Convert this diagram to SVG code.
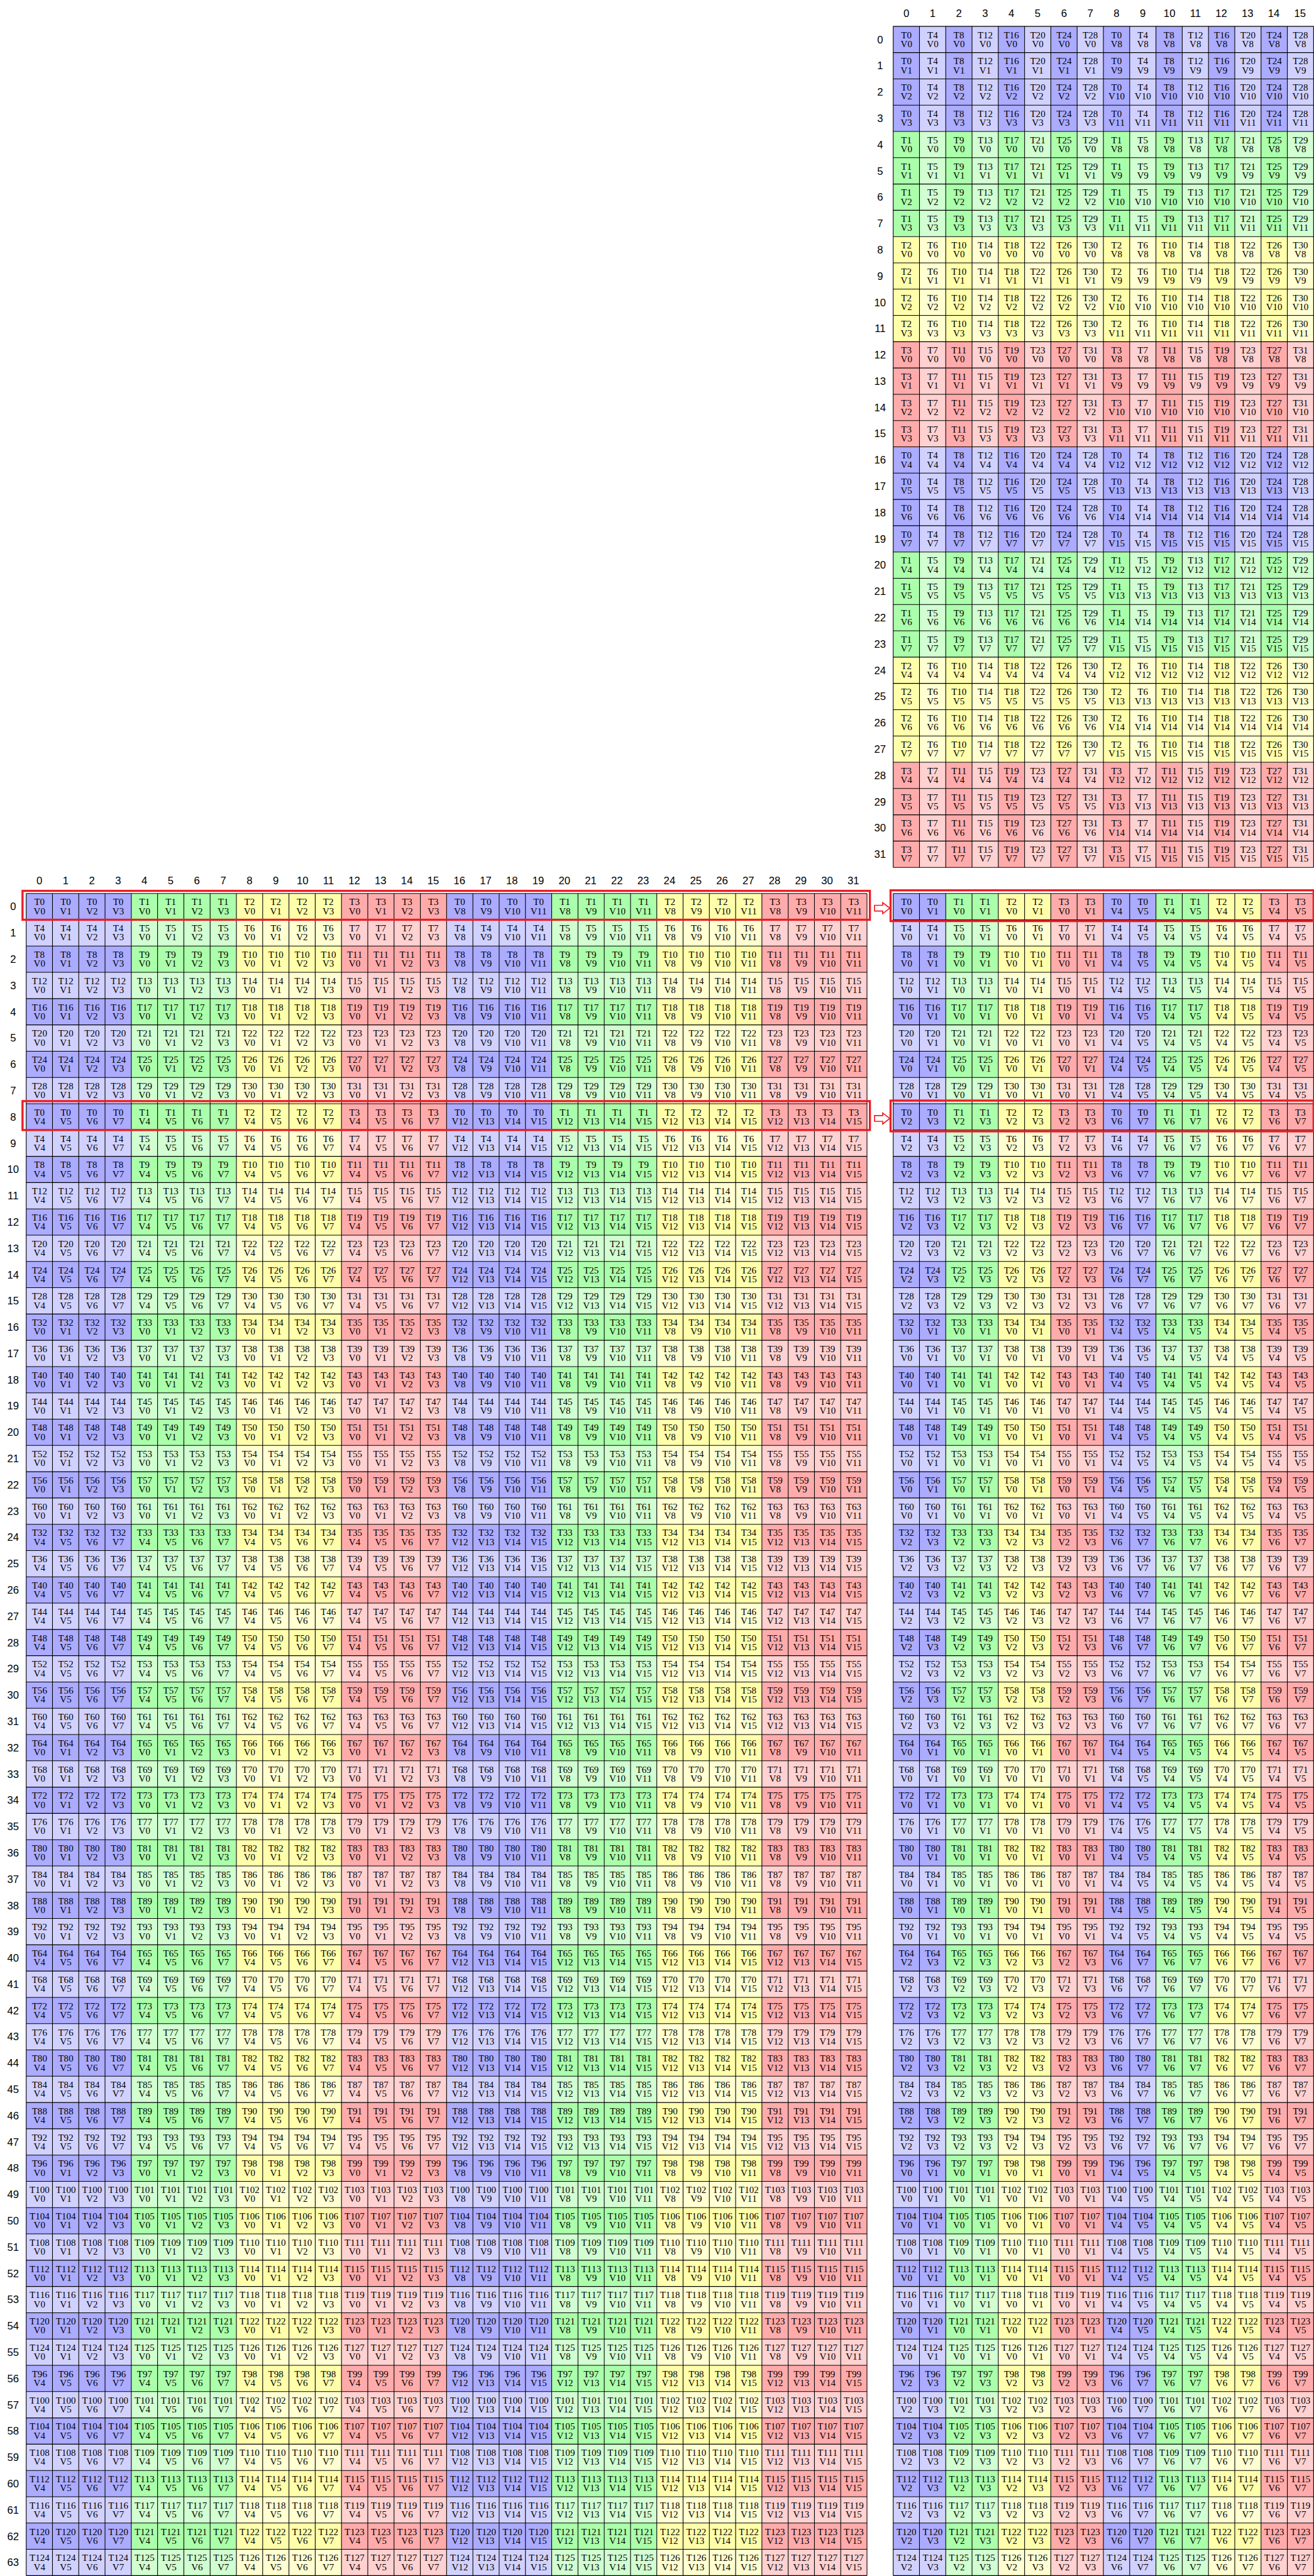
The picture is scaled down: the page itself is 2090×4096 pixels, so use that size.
<svg xmlns="http://www.w3.org/2000/svg" width="2090" height="4096" viewBox="0 0 2090 4096">
<style>
.t{font-family:"Liberation Serif","Times New Roman",serif;font-size:36px;text-anchor:middle;font-kerning:none;fill:#000}
.n{font-family:"Liberation Sans",Arial,sans-serif;font-size:40px;text-anchor:middle;fill:#000}
.a{word-spacing:51px}.b{word-spacing:33px}.c{word-spacing:15px}.v{word-spacing:47px}.w{word-spacing:29px}.d{word-spacing:66.6px}.e{word-spacing:44.4px}
.g{fill:none;stroke:#000;stroke-dasharray:2.6 97.4}
.r{fill:none;stroke:#ed1c24;stroke-width:8}
.ar{fill:#fff;stroke:#ed1c24;stroke-width:4}
</style>
<defs>
<pattern id="pT" patternUnits="userSpaceOnUse" width="200" height="1600">
<rect width="100" height="400" fill="#ababff"/><rect x="100" width="100" height="400" fill="#d1d1ff"/>
<rect y="400" width="100" height="400" fill="#abffab"/><rect x="100" y="400" width="100" height="400" fill="#d1ffd1"/>
<rect y="800" width="100" height="400" fill="#ffffab"/><rect x="100" y="800" width="100" height="400" fill="#ffffd1"/>
<rect y="1200" width="100" height="400" fill="#ffabab"/><rect x="100" y="1200" width="100" height="400" fill="#ffd1d1"/>
</pattern>
<pattern id="pL" patternUnits="userSpaceOnUse" width="1600" height="200">
<rect width="400" height="100" fill="#ababff"/><rect y="100" width="400" height="100" fill="#d1d1ff"/>
<rect x="400" width="400" height="100" fill="#abffab"/><rect x="400" y="100" width="400" height="100" fill="#d1ffd1"/>
<rect x="800" width="400" height="100" fill="#ffffab"/><rect x="800" y="100" width="400" height="100" fill="#ffffd1"/>
<rect x="1200" width="400" height="100" fill="#ffabab"/><rect x="1200" y="100" width="400" height="100" fill="#ffd1d1"/>
</pattern>
<pattern id="pR" patternUnits="userSpaceOnUse" width="800" height="200">
<rect width="200" height="100" fill="#ababff"/><rect y="100" width="200" height="100" fill="#d1d1ff"/>
<rect x="200" width="200" height="100" fill="#abffab"/><rect x="200" y="100" width="200" height="100" fill="#d1ffd1"/>
<rect x="400" width="200" height="100" fill="#ffffab"/><rect x="400" y="100" width="200" height="100" fill="#ffffd1"/>
<rect x="600" width="200" height="100" fill="#ffabab"/><rect x="600" y="100" width="200" height="100" fill="#ffd1d1"/>
</pattern>
<g id="A0" class="t"><text class="a" x="150">T0 T4 T8</text><text class="b" x="550">T12 T16 T20 T24 T28</text><text class="a" x="950">T0 T4 T8</text><text class="b" x="1350">T12 T16 T20 T24 T28</text></g>
<g id="A1" class="t"><text class="a" x="150">T1 T5 T9</text><text class="b" x="550">T13 T17 T21 T25 T29</text><text class="a" x="950">T1 T5 T9</text><text class="b" x="1350">T13 T17 T21 T25 T29</text></g>
<g id="A2" class="t"><text class="a" x="100">T2 T6</text><text class="b" x="500">T10 T14 T18 T22 T26 T30</text><text class="a" x="900">T2 T6</text><text class="b" x="1300">T10 T14 T18 T22 T26 T30</text></g>
<g id="A3" class="t"><text class="a" x="100">T3 T7</text><text class="b" x="500">T11 T15 T19 T23 T27 T31</text><text class="a" x="900">T3 T7</text><text class="b" x="1300">T11 T15 T19 T23 T27 T31</text></g>
<g id="TT"><use href="#A0" y="45"/><use href="#A0" y="145"/><use href="#A0" y="245"/><use href="#A0" y="345"/><use href="#A1" y="445"/><use href="#A1" y="545"/><use href="#A1" y="645"/><use href="#A1" y="745"/><use href="#A2" y="845"/><use href="#A2" y="945"/><use href="#A2" y="1045"/><use href="#A2" y="1145"/><use href="#A3" y="1245"/><use href="#A3" y="1345"/><use href="#A3" y="1445"/><use href="#A3" y="1545"/></g>
<g id="VB0" class="t">
<text class="v" x="800" y="79">V0 V0 V0 V0 V0 V0 V0 V0 V8 V8 V8 V8 V8 V8 V8 V8</text>
<text class="v" x="800" y="179">V1 V1 V1 V1 V1 V1 V1 V1 V9 V9 V9 V9 V9 V9 V9 V9</text>
<text class="v" x="400" y="279">V2 V2 V2 V2 V2 V2 V2 V2</text><text class="w" x="1200" y="279">V10 V10 V10 V10 V10 V10 V10 V10</text>
<text class="v" x="400" y="379">V3 V3 V3 V3 V3 V3 V3 V3</text><text class="w" x="1200" y="379">V11 V11 V11 V11 V11 V11 V11 V11</text>
</g>
<g id="VB1" class="t">
<text class="v" x="400" y="79">V4 V4 V4 V4 V4 V4 V4 V4</text><text class="w" x="1200" y="79">V12 V12 V12 V12 V12 V12 V12 V12</text>
<text class="v" x="400" y="179">V5 V5 V5 V5 V5 V5 V5 V5</text><text class="w" x="1200" y="179">V13 V13 V13 V13 V13 V13 V13 V13</text>
<text class="v" x="400" y="279">V6 V6 V6 V6 V6 V6 V6 V6</text><text class="w" x="1200" y="279">V14 V14 V14 V14 V14 V14 V14 V14</text>
<text class="v" x="400" y="379">V7 V7 V7 V7 V7 V7 V7 V7</text><text class="w" x="1200" y="379">V15 V15 V15 V15 V15 V15 V15 V15</text>
</g>
<g id="LT0" class="t">
<text class="a" x="800" y="45">T0 T0 T0 T0 T1 T1 T1 T1 T2 T2 T2 T2 T3 T3 T3 T3</text>
<text class="a" x="800" y="145">T4 T4 T4 T4 T5 T5 T5 T5 T6 T6 T6 T6 T7 T7 T7 T7</text>
<text class="a" x="400" y="245">T8 T8 T8 T8 T9 T9 T9 T9</text><text class="b" x="1200" y="245">T10 T10 T10 T10 T11 T11 T11 T11</text>
<text class="b" x="800" y="345">T12 T12 T12 T12 T13 T13 T13 T13 T14 T14 T14 T14 T15 T15 T15 T15</text>
<text class="b" x="800" y="445">T16 T16 T16 T16 T17 T17 T17 T17 T18 T18 T18 T18 T19 T19 T19 T19</text>
<text class="b" x="800" y="545">T20 T20 T20 T20 T21 T21 T21 T21 T22 T22 T22 T22 T23 T23 T23 T23</text>
<text class="b" x="800" y="645">T24 T24 T24 T24 T25 T25 T25 T25 T26 T26 T26 T26 T27 T27 T27 T27</text>
<text class="b" x="800" y="745">T28 T28 T28 T28 T29 T29 T29 T29 T30 T30 T30 T30 T31 T31 T31 T31</text>
</g>
<g id="LT1" class="t">
<text class="b" x="800" y="45">T32 T32 T32 T32 T33 T33 T33 T33 T34 T34 T34 T34 T35 T35 T35 T35</text>
<text class="b" x="800" y="145">T36 T36 T36 T36 T37 T37 T37 T37 T38 T38 T38 T38 T39 T39 T39 T39</text>
<text class="b" x="800" y="245">T40 T40 T40 T40 T41 T41 T41 T41 T42 T42 T42 T42 T43 T43 T43 T43</text>
<text class="b" x="800" y="345">T44 T44 T44 T44 T45 T45 T45 T45 T46 T46 T46 T46 T47 T47 T47 T47</text>
<text class="b" x="800" y="445">T48 T48 T48 T48 T49 T49 T49 T49 T50 T50 T50 T50 T51 T51 T51 T51</text>
<text class="b" x="800" y="545">T52 T52 T52 T52 T53 T53 T53 T53 T54 T54 T54 T54 T55 T55 T55 T55</text>
<text class="b" x="800" y="645">T56 T56 T56 T56 T57 T57 T57 T57 T58 T58 T58 T58 T59 T59 T59 T59</text>
<text class="b" x="800" y="745">T60 T60 T60 T60 T61 T61 T61 T61 T62 T62 T62 T62 T63 T63 T63 T63</text>
</g>
<g id="LT2" class="t">
<text class="b" x="800" y="45">T64 T64 T64 T64 T65 T65 T65 T65 T66 T66 T66 T66 T67 T67 T67 T67</text>
<text class="b" x="800" y="145">T68 T68 T68 T68 T69 T69 T69 T69 T70 T70 T70 T70 T71 T71 T71 T71</text>
<text class="b" x="800" y="245">T72 T72 T72 T72 T73 T73 T73 T73 T74 T74 T74 T74 T75 T75 T75 T75</text>
<text class="b" x="800" y="345">T76 T76 T76 T76 T77 T77 T77 T77 T78 T78 T78 T78 T79 T79 T79 T79</text>
<text class="b" x="800" y="445">T80 T80 T80 T80 T81 T81 T81 T81 T82 T82 T82 T82 T83 T83 T83 T83</text>
<text class="b" x="800" y="545">T84 T84 T84 T84 T85 T85 T85 T85 T86 T86 T86 T86 T87 T87 T87 T87</text>
<text class="b" x="800" y="645">T88 T88 T88 T88 T89 T89 T89 T89 T90 T90 T90 T90 T91 T91 T91 T91</text>
<text class="b" x="800" y="745">T92 T92 T92 T92 T93 T93 T93 T93 T94 T94 T94 T94 T95 T95 T95 T95</text>
</g>
<g id="LT3" class="t">
<text class="b" x="800" y="45">T96 T96 T96 T96 T97 T97 T97 T97 T98 T98 T98 T98 T99 T99 T99 T99</text>
<text class="c" x="800" y="145">T100 T100 T100 T100 T101 T101 T101 T101 T102 T102 T102 T102 T103 T103 T103 T103</text>
<text class="c" x="800" y="245">T104 T104 T104 T104 T105 T105 T105 T105 T106 T106 T106 T106 T107 T107 T107 T107</text>
<text class="c" x="800" y="345">T108 T108 T108 T108 T109 T109 T109 T109 T110 T110 T110 T110 T111 T111 T111 T111</text>
<text class="c" x="800" y="445">T112 T112 T112 T112 T113 T113 T113 T113 T114 T114 T114 T114 T115 T115 T115 T115</text>
<text class="c" x="800" y="545">T116 T116 T116 T116 T117 T117 T117 T117 T118 T118 T118 T118 T119 T119 T119 T119</text>
<text class="c" x="800" y="645">T120 T120 T120 T120 T121 T121 T121 T121 T122 T122 T122 T122 T123 T123 T123 T123</text>
<text class="c" x="800" y="745">T124 T124 T124 T124 T125 T125 T125 T125 T126 T126 T126 T126 T127 T127 T127 T127</text>
</g>
<g id="LV0" class="t"><text class="v" x="800" y="79">V0 V1 V2 V3 V0 V1 V2 V3 V0 V1 V2 V3 V0 V1 V2 V3</text><text class="v" x="1700" y="79">V8 V9</text><text class="w" x="1900" y="79">V10 V11</text><text class="v" x="2100" y="79">V8 V9</text><text class="w" x="2300" y="79">V10 V11</text><text class="v" x="2500" y="79">V8 V9</text><text class="w" x="2700" y="79">V10 V11</text><text class="v" x="2900" y="79">V8 V9</text><text class="w" x="3100" y="79">V10 V11</text></g>
<g id="LV1" class="t"><text class="v" x="800" y="79">V4 V5 V6 V7 V4 V5 V6 V7 V4 V5 V6 V7 V4 V5 V6 V7</text><text class="w" x="2400" y="79">V12 V13 V14 V15 V12 V13 V14 V15 V12 V13 V14 V15 V12 V13 V14 V15</text></g>
<g id="LVB"><use href="#LV0"/><use href="#LV0" y="100"/><use href="#LV0" y="200"/><use href="#LV0" y="300"/><use href="#LV0" y="400"/><use href="#LV0" y="500"/><use href="#LV0" y="600"/><use href="#LV0" y="700"/><use href="#LV1" y="800"/><use href="#LV1" y="900"/><use href="#LV1" y="1000"/><use href="#LV1" y="1100"/><use href="#LV1" y="1200"/><use href="#LV1" y="1300"/><use href="#LV1" y="1400"/><use href="#LV1" y="1500"/></g>
<g id="RT0" class="t">
<text class="a" x="400" y="45">T0 T0 T1 T1 T2 T2 T3 T3</text>
<text class="a" x="400" y="145">T4 T4 T5 T5 T6 T6 T7 T7</text>
<text class="a" x="200" y="245">T8 T8 T9 T9</text><text class="b" x="600" y="245">T10 T10 T11 T11</text>
<text class="b" x="400" y="345">T12 T12 T13 T13 T14 T14 T15 T15</text>
<text class="b" x="400" y="445">T16 T16 T17 T17 T18 T18 T19 T19</text>
<text class="b" x="400" y="545">T20 T20 T21 T21 T22 T22 T23 T23</text>
<text class="b" x="400" y="645">T24 T24 T25 T25 T26 T26 T27 T27</text>
<text class="b" x="400" y="745">T28 T28 T29 T29 T30 T30 T31 T31</text>
</g>
<g id="RT1" class="t">
<text class="b" x="400" y="45">T32 T32 T33 T33 T34 T34 T35 T35</text>
<text class="b" x="400" y="145">T36 T36 T37 T37 T38 T38 T39 T39</text>
<text class="b" x="400" y="245">T40 T40 T41 T41 T42 T42 T43 T43</text>
<text class="b" x="400" y="345">T44 T44 T45 T45 T46 T46 T47 T47</text>
<text class="b" x="400" y="445">T48 T48 T49 T49 T50 T50 T51 T51</text>
<text class="b" x="400" y="545">T52 T52 T53 T53 T54 T54 T55 T55</text>
<text class="b" x="400" y="645">T56 T56 T57 T57 T58 T58 T59 T59</text>
<text class="b" x="400" y="745">T60 T60 T61 T61 T62 T62 T63 T63</text>
</g>
<g id="RT2" class="t">
<text class="b" x="400" y="45">T64 T64 T65 T65 T66 T66 T67 T67</text>
<text class="b" x="400" y="145">T68 T68 T69 T69 T70 T70 T71 T71</text>
<text class="b" x="400" y="245">T72 T72 T73 T73 T74 T74 T75 T75</text>
<text class="b" x="400" y="345">T76 T76 T77 T77 T78 T78 T79 T79</text>
<text class="b" x="400" y="445">T80 T80 T81 T81 T82 T82 T83 T83</text>
<text class="b" x="400" y="545">T84 T84 T85 T85 T86 T86 T87 T87</text>
<text class="b" x="400" y="645">T88 T88 T89 T89 T90 T90 T91 T91</text>
<text class="b" x="400" y="745">T92 T92 T93 T93 T94 T94 T95 T95</text>
</g>
<g id="RT3" class="t">
<text class="b" x="400" y="45">T96 T96 T97 T97 T98 T98 T99 T99</text>
<text class="c" x="400" y="145">T100 T100 T101 T101 T102 T102 T103 T103</text>
<text class="c" x="400" y="245">T104 T104 T105 T105 T106 T106 T107 T107</text>
<text class="c" x="400" y="345">T108 T108 T109 T109 T110 T110 T111 T111</text>
<text class="c" x="400" y="445">T112 T112 T113 T113 T114 T114 T115 T115</text>
<text class="c" x="400" y="545">T116 T116 T117 T117 T118 T118 T119 T119</text>
<text class="c" x="400" y="645">T120 T120 T121 T121 T122 T122 T123 T123</text>
<text class="c" x="400" y="745">T124 T124 T125 T125 T126 T126 T127 T127</text>
</g>
<g id="RV0" class="t"><text class="v" x="800" y="79">V0 V1 V0 V1 V0 V1 V0 V1 V4 V5 V4 V5 V4 V5 V4 V5</text></g>
<g id="RV1" class="t"><text class="v" x="800" y="79">V2 V3 V2 V3 V2 V3 V2 V3 V6 V7 V6 V7 V6 V7 V6 V7</text></g>
<g id="RVB"><use href="#RV0"/><use href="#RV0" y="100"/><use href="#RV0" y="200"/><use href="#RV0" y="300"/><use href="#RV0" y="400"/><use href="#RV0" y="500"/><use href="#RV0" y="600"/><use href="#RV0" y="700"/><use href="#RV1" y="800"/><use href="#RV1" y="900"/><use href="#RV1" y="1000"/><use href="#RV1" y="1100"/><use href="#RV1" y="1200"/><use href="#RV1" y="1300"/><use href="#RV1" y="1400"/><use href="#RV1" y="1500"/></g>
<text id="R32" class="n"><tspan x="0" y="64">0</tspan><tspan x="0" dy="100">1</tspan><tspan x="0" dy="100">2</tspan><tspan x="0" dy="100">3</tspan><tspan x="0" dy="100">4</tspan><tspan x="0" dy="100">5</tspan><tspan x="0" dy="100">6</tspan><tspan x="0" dy="100">7</tspan><tspan x="0" dy="100">8</tspan><tspan x="0" dy="100">9</tspan><tspan x="0" dy="100">10</tspan><tspan x="0" dy="100">11</tspan><tspan x="0" dy="100">12</tspan><tspan x="0" dy="100">13</tspan><tspan x="0" dy="100">14</tspan><tspan x="0" dy="100">15</tspan><tspan x="0" dy="100">16</tspan><tspan x="0" dy="100">17</tspan><tspan x="0" dy="100">18</tspan><tspan x="0" dy="100">19</tspan><tspan x="0" dy="100">20</tspan><tspan x="0" dy="100">21</tspan><tspan x="0" dy="100">22</tspan><tspan x="0" dy="100">23</tspan><tspan x="0" dy="100">24</tspan><tspan x="0" dy="100">25</tspan><tspan x="0" dy="100">26</tspan><tspan x="0" dy="100">27</tspan><tspan x="0" dy="100">28</tspan><tspan x="0" dy="100">29</tspan><tspan x="0" dy="100">30</tspan><tspan x="0" dy="100">31</tspan></text>
<text id="R2" class="n"><tspan x="0" y="3264">32</tspan><tspan x="0" dy="100">33</tspan><tspan x="0" dy="100">34</tspan><tspan x="0" dy="100">35</tspan><tspan x="0" dy="100">36</tspan><tspan x="0" dy="100">37</tspan><tspan x="0" dy="100">38</tspan><tspan x="0" dy="100">39</tspan><tspan x="0" dy="100">40</tspan><tspan x="0" dy="100">41</tspan><tspan x="0" dy="100">42</tspan><tspan x="0" dy="100">43</tspan><tspan x="0" dy="100">44</tspan><tspan x="0" dy="100">45</tspan><tspan x="0" dy="100">46</tspan><tspan x="0" dy="100">47</tspan><tspan x="0" dy="100">48</tspan><tspan x="0" dy="100">49</tspan><tspan x="0" dy="100">50</tspan><tspan x="0" dy="100">51</tspan><tspan x="0" dy="100">52</tspan><tspan x="0" dy="100">53</tspan><tspan x="0" dy="100">54</tspan><tspan x="0" dy="100">55</tspan><tspan x="0" dy="100">56</tspan><tspan x="0" dy="100">57</tspan><tspan x="0" dy="100">58</tspan><tspan x="0" dy="100">59</tspan><tspan x="0" dy="100">60</tspan><tspan x="0" dy="100">61</tspan><tspan x="0" dy="100">62</tspan><tspan x="0" dy="100">63</tspan></text>
</defs>
<rect width="2090" height="4096" fill="#fff"/>
<g transform="scale(0.5528)">
<g id="top-grid" transform="translate(2570 75.7) scale(0.756)">
<rect width="1600" height="3200" fill="url(#pT)"/>
<path class="g" d="M-1.3 1600H1601.3" stroke-width="3200"/>
<path class="g" d="M800-1.3V3201.3" stroke-width="1600"/>
<g class="t"><use href="#TT"/><use href="#TT" y="1600"/><use href="#VB0"/><use href="#VB0" y="400"/><use href="#VB0" y="800"/><use href="#VB0" y="1200"/><use href="#VB1" y="1600"/><use href="#VB1" y="2000"/><use href="#VB1" y="2400"/><use href="#VB1" y="2800"/></g>
<g class="n"><text class="d" x="500" y="-35">0 1 2 3 4 5 6 7 8 9</text><text class="e" x="1300" y="-35">10 11 12 13 14 15</text><use href="#R32" x="-50"/></g>
</g>
<g id="left-grid" transform="translate(75.4 2570) scale(0.756)">
<rect width="3200" height="6400" fill="url(#pL)"/>
<path class="g" d="M-1.3 3200H3201.3" stroke-width="6400"/>
<path class="g" d="M1600-1.3V6401.3" stroke-width="3200"/>
<g class="t"><use href="#LT0"/><use href="#LT0" x="1600"/><use href="#LT0" y="800"/><use href="#LT0" x="1600" y="800"/><use href="#LT1" y="1600"/><use href="#LT1" x="1600" y="1600"/><use href="#LT1" y="2400"/><use href="#LT1" x="1600" y="2400"/><use href="#LT2" y="3200"/><use href="#LT2" x="1600" y="3200"/><use href="#LT2" y="4000"/><use href="#LT2" x="1600" y="4000"/><use href="#LT3" y="4800"/><use href="#LT3" x="1600" y="4800"/><use href="#LT3" y="5600"/><use href="#LT3" x="1600" y="5600"/><use href="#LVB"/><use href="#LVB" y="1600"/><use href="#LVB" y="3200"/><use href="#LVB" y="4800"/></g>
<g class="n"><text class="d" x="500" y="-35">0 1 2 3 4 5 6 7 8 9</text><text class="e" x="2100" y="-35">10 11 12 13 14 15 16 17 18 19 20 21 22 23 24 25 26 27 28 29 30 31</text><use href="#R32" x="-50"/><use href="#R2" x="-50"/></g>
<rect class="r" x="-14" y="-10" width="3225" height="110"/><rect class="r" x="-14" y="790" width="3225" height="110"/>
</g>
<g id="right-grid" transform="translate(2570 2570) scale(0.756)">
<rect width="1600" height="6400" fill="url(#pR)"/>
<path class="g" d="M-1.3 3200H1601.3" stroke-width="6400"/>
<path class="g" d="M800-1.3V6401.3" stroke-width="1600"/>
<g class="t"><use href="#RT0"/><use href="#RT0" x="800"/><use href="#RT0" y="800"/><use href="#RT0" x="800" y="800"/><use href="#RT1" y="1600"/><use href="#RT1" x="800" y="1600"/><use href="#RT1" y="2400"/><use href="#RT1" x="800" y="2400"/><use href="#RT2" y="3200"/><use href="#RT2" x="800" y="3200"/><use href="#RT2" y="4000"/><use href="#RT2" x="800" y="4000"/><use href="#RT3" y="4800"/><use href="#RT3" x="800" y="4800"/><use href="#RT3" y="5600"/><use href="#RT3" x="800" y="5600"/><use href="#RVB"/><use href="#RVB" y="1600"/><use href="#RVB" y="3200"/><use href="#RVB" y="4800"/></g>
<rect class="r" x="-10" y="-12" width="1610" height="117"/><rect class="r" x="-10" y="788" width="1610" height="117"/>
</g>
<g id="connectors" transform="translate(2570 2570) scale(0.756)">
<polygon id="arw" class="ar" points="-71,45 -40,45 -40,35 -13,56 -40,77 -40,67 -71,67"/>
<use href="#arw" y="800"/>
</g>
</g>
</svg>
